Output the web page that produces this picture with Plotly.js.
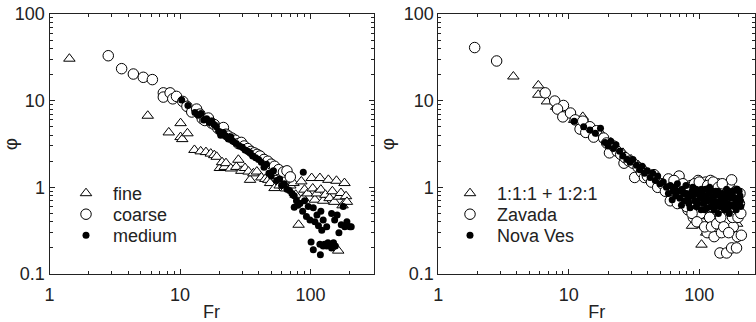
<!DOCTYPE html>
<html>
<head>
<meta charset="utf-8">
<script src="https://cdn.plot.ly/plotly-3.0.1.min.js"></script>
<style>html,body{margin:0;padding:0;background:#fff;}#chart{width:756px;height:322px;}</style>
</head>
<body>
<div id="chart"></div>
<script>
// ---- Left panel data ----
const fineFr = [1.42,5.66,8.2,10.1,10.1,10.4,11.4,12.9,14.4,15.8,17.2,18.3,19.1,20.2,21.0,22.0,22.5,24.5,27.0,28.0,29.5,31.5,33.5,34.4,36.5,38.8,42,45,47.5,49,50.5,53,58,65,70,74,77,81,85,88,90,95,102,104,108,112,118,120,125,130,137,140,147,152,158,163,165,171,176,182,187,190];
const finePhi = [30.5,6.7,4.3,5.5,3.8,3.6,4.2,2.7,2.6,2.55,2.45,2.35,2.25,1.67,1.95,1.72,1.9,1.65,1.72,2.08,1.55,1.67,1.52,1.22,1.45,1.52,1.3,1.25,1.22,1.12,1.47,0.98,1.05,0.97,1.05,1.12,0.82,0.37,1.17,0.75,0.94,0.85,1.28,0.97,0.72,0.85,1.28,0.94,0.7,0.82,1.22,0.75,0.9,0.68,1.19,0.186,0.78,0.86,0.62,1.12,0.79,0.68];

const coarseFr = [2.82,3.57,4.39,5.23,6.14,7.45,7.45,8.4,8.8,9.4,10.5,11.3,12.3,13.4,14.2,14.8,15.5,16.5,17.5,18.3,19.5,20.5,21.5,22.5,23.5,25,26.5,28,29.5,31,33,35,37,39,41,44,47,50,53,57,62,66,70];
const coarsePhi = [33,23.4,20.3,18.6,17.5,12.3,11.0,12.3,10.5,11.2,9.8,8.6,7.4,8.0,7.0,6.2,5.9,6.3,5.5,5.3,4.8,4.5,4.9,4.1,3.9,3.7,3.5,3.2,3.3,3.0,2.8,2.6,2.5,2.4,2.3,2.1,2.0,1.85,1.75,1.6,1.5,1.55,1.32];

const mediumFr = [10.3,11.5,13,13.8,14.5,15.2,16,16.8,17.5,18.2,19,20,20.5,21.5,22.5,23.5,24.5,25.5,27,28.5,30,31.5,33,34.5,36,38,40,42,44,46,48,50,52,55,58,60,63,66,69,72,75,75,78,80,83,87,88,90,93,96,99,101,105,105,108,112,115,118,119,120,122,125,125,128,133,133,136,140,145,145,150,153,155,160,165,172,178,183,190,200,205];
const mediumPhi = [10.2,8.8,7.3,6.8,7.1,6.0,6.2,5.6,5.8,5.3,5.0,4.4,4.0,4.3,3.9,3.6,3.8,3.4,3.2,3.0,2.9,2.7,2.6,2.5,2.3,2.2,2.1,1.95,1.7,1.85,1.45,1.35,1.55,1.2,1.25,1.05,1.1,0.95,0.92,0.85,0.8,0.59,0.7,0.62,0.65,0.53,1.49,0.7,0.46,0.6,0.42,0.234,0.58,0.19,0.4,0.48,0.36,0.22,0.167,0.53,0.32,0.42,0.21,0.22,0.35,0.21,0.23,0.22,0.5,0.2,0.23,0.42,0.21,0.48,0.3,0.37,0.6,0.35,0.4,0.35,0.35];

// ---- Right panel data ----
const mixFr = [3.76,5.84,5.84,6.8,8,9.5,11,12.8,14,15.5,17,19,21,23,26,30,34,38,43,48,55,62,70,78,88,95,104,110,113,120,135,150,165,180,195,200];
const mixPhi = [19,15,11.7,9.8,8.5,7.5,6.0,6.5,5.2,4.6,4.5,3.6,3.3,2.9,2.5,2.1,1.8,1.6,1.4,1.25,1.1,0.95,0.85,0.75,0.36,0.6,0.218,0.5,0.3,0.45,0.55,0.42,0.48,0.4,0.38,0.9];

const zavFr = [1.9,2.8,6.6,7.8,9.1,8.2,9.0,10.3,11.2,12.2,12.8,13.5,14.5,15.5,16.3,18.5,19.5,20.5,22,23.5,25,26.5,27,29,31,32,34,36,38,40,43,45,48,52,55,58,62,66,70,73,78,82,86,90,94,98,102,105,108,112,115,118,122,126,130,134,138,142,144,148,152,156,162,165,170,177,177,182,186,193,196,200,205,210,
  60,64,68,75,80,84,88,92,96,100,104,110,116,120,124,128,132,136,140,146,150,154,158,168,174,180,190,198,203,208];
const zavPhi = [41,28.7,12.3,9.9,8.8,8.0,6.5,7.2,6.0,4.7,5.8,4.3,5.0,3.8,4.5,3.7,3.25,2.5,3.0,2.6,2.4,1.9,2.2,2.0,1.9,1.3,1.7,1.5,1.3,1.35,1.15,1.4,1.0,1.1,0.9,1.25,0.8,1.0,1.35,0.7,0.9,0.55,1.05,0.45,0.75,1.2,0.5,0.38,0.9,1.15,0.3,0.6,1.2,0.42,0.27,0.8,1.1,0.5,0.175,0.3,0.95,0.65,0.175,0.42,1.1,0.2,1.22,0.35,0.6,0.2,0.27,0.5,0.85,0.28,
  0.7,1.2,0.65,1.1,0.6,1.0,0.5,1.1,0.4,1.15,0.65,0.35,1.05,0.45,0.35,1.15,0.6,0.38,1.0,0.45,1.1,0.35,0.6,0.3,0.75,0.45,0.9,0.45,0.65,0.5];

const novaFr = [11,13,14.5,16,17.5,19,20,21,22,23,24.5,26,28,29.5,31,33,35,36.5,38,40,42,44,46,48,50,53,56,58,60,63,66,68,71,74,77,80,83,86,89,92,95,98,101,104,107,110,113,116,120,123,126,130,134,137,140,144,148,152,156,160,165,170,175,180,185,190,195,200,205,208,
  62,65,70,73,76,79,82,85,88,91,94,97,100,103,106,109,112,115,118,121,124,127,131,135,139,142,146,150,154,158,162,167,172,177,182,187,192,197,202,207];
const novaPhi = [5.8,5.0,4.6,4.2,4.8,3.3,3.0,3.4,2.8,3.1,2.6,2.3,2.1,1.95,2.1,1.8,1.6,1.75,1.45,1.55,1.3,1.45,1.2,1.35,1.1,1.15,1.0,0.85,1.05,0.9,0.8,1.1,0.75,0.95,0.7,0.85,0.65,0.8,1.0,0.7,0.6,0.85,0.75,0.95,0.65,0.55,0.8,0.7,1.0,0.6,0.75,0.55,0.9,0.65,0.5,0.8,0.6,0.7,0.55,0.85,0.65,0.5,0.75,0.9,0.6,0.7,0.95,0.65,0.8,0.6,
  0.72,1.0,0.9,0.62,0.85,1.05,0.75,0.58,0.9,0.82,0.95,0.65,0.9,0.55,0.82,0.7,0.95,0.58,0.85,0.72,0.92,0.62,0.8,0.68,0.9,0.6,0.7,0.85,0.62,0.75,0.95,0.58,0.85,0.62,0.78,0.92,0.55,0.75,0.9,0.7];

const xTicks = [1,10,100];
const yTicks = [0.1,1,10,100];
const yTickText = ['0.1','1','10','100'];

const FONT = 'Liberation Sans, Arial, sans-serif';
const INK = '#222';

function tri(x,y,name,xa,ya,lg){return {x:x,y:y,name:name,type:'scatter',mode:'markers',xaxis:xa,yaxis:ya,legend:lg,
  marker:{symbol:'triangle-up',size:10,color:'#fff',line:{color:'#000',width:1}}};}
function circ(x,y,name,xa,ya,lg){return {x:x,y:y,name:name,type:'scatter',mode:'markers',xaxis:xa,yaxis:ya,legend:lg,
  marker:{symbol:'circle',size:10.5,color:'#fff',line:{color:'#000',width:1}}};}
function dot(x,y,name,xa,ya,lg){return {x:x,y:y,name:name,type:'scatter',mode:'markers',xaxis:xa,yaxis:ya,legend:lg,
  marker:{symbol:'circle',size:7,color:'#000',line:{color:'#000',width:0}}};}

const data = [
  tri(fineFr,finePhi,'fine','x','y','legend'),
  circ(coarseFr,coarsePhi,'coarse','x','y','legend2'),
  dot(mediumFr,mediumPhi,'medium','x','y','legend3'),
  tri(mixFr,mixPhi,'1:1:1 + 1:2:1','x2','y2','legend4'),
  circ(zavFr,zavPhi,'Zavada','x2','y2','legend5'),
  dot(novaFr,novaPhi,'Nova Ves','x2','y2','legend6')
];

function xax(domain, maxLog, anchor){
  return {type:'log', domain:domain, range:[0,maxLog], anchor:anchor,
    tickvals:xTicks, ticktext:xTicks.map(String), ticks:'inside', ticklen:5, tickcolor:INK, tickwidth:1,
    minor:{ticks:'inside', ticklen:3, tickcolor:INK, dtick:'D1', showgrid:false},
    showline:true, linecolor:INK, linewidth:1, mirror:'ticks', showgrid:false, zeroline:false,
    tickfont:{family:FONT,size:18,color:INK}, ticklabelstandoff:4, automargin:false,
    title:{text:'Fr', font:{family:FONT,size:18,color:INK}, standoff:6}};
}
function yax(anchor){
  return {type:'log', domain:[0,1], range:[-1,2], anchor:anchor,
    tickvals:yTicks, ticktext:yTickText, ticks:'inside', ticklen:5, tickcolor:INK, tickwidth:1,
    minor:{ticks:'inside', ticklen:3, tickcolor:INK, dtick:'D1', showgrid:false},
    showline:true, linecolor:INK, linewidth:1, mirror:'ticks', showgrid:false, zeroline:false,
    tickfont:{family:FONT,size:18,color:INK}, automargin:false,
    title:{text:'φ', font:{family:FONT,size:19,color:INK}, standoff:4}};
}

const legendBase = {bgcolor:'rgba(0,0,0,0)', borderwidth:0, font:{family:FONT,size:18,color:INK},
  xanchor:'left', yanchor:'middle', itemwidth:44};
function lg(xpx, ypx){ return Object.assign({}, legendBase, {x:xpx/756, y:(274-ypx)/260}); }

const layout = {
  width:756, height:322,
  margin:{l:0,r:0,t:14,b:48,pad:0},
  paper_bgcolor:'#fff', plot_bgcolor:'#fff',
  showlegend:true,
  xaxis: xax([49.5/756, 373.7/756], 2.484, 'y'),
  yaxis: yax('x'),
  xaxis2: xax([438.3/756, 755/756], 2.427, 'y2'),
  yaxis2: yax('x2'),
  legend:  lg(59, 193.5),
  legend2: lg(59, 214.5),
  legend3: lg(59, 235.5),
  legend4: lg(443, 193.5),
  legend5: lg(443, 214.5),
  legend6: lg(443, 235.5)
};

Plotly.newPlot('chart', data, layout, {staticPlot:true, displayModeBar:false});
</script>
</body>
</html>
